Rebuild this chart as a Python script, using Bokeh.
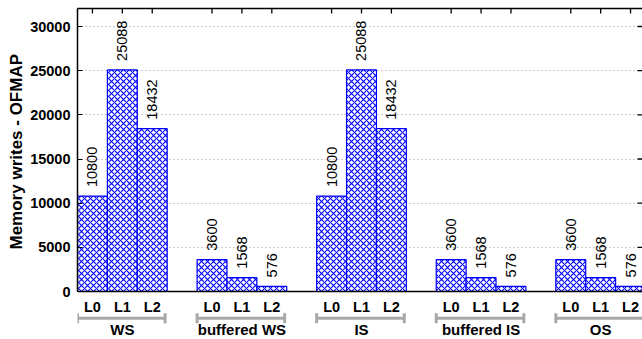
from bokeh.plotting import figure
from bokeh.models import (ColumnDataSource, FixedTicker, LinearAxis, Range1d,
                          Whisker, TeeHead, Grid, Span, Title)
from bokeh.core.properties import value
from bokeh.embed import file_html
from bokeh.resources import INLINE

# ---------------- data ----------------
groups = ["WS", "buffered WS", "IS", "buffered IS", "OS"]
levels = ["L0", "L1", "L2"]
ws_values = [10800, 25088, 18432]
buffered_ws_values = [3600, 1568, 576]
is_values = [10800, 25088, 18432]
buffered_is_values = [3600, 1568, 576]
os_values = [3600, 1568, 576]
y_ticks = [0, 5000, 10000, 15000, 20000, 25000, 30000]
y_label = "Memory writes - OFMAP"

series = [ws_values, buffered_ws_values, is_values, buffered_is_values, os_values]

# ---------------- layout constants (pixels) ----------------
FRAME_H = 331          # frame height (8 px top border, frame to bottom of page)
ZERO_PX = 283          # distance from frame top to the value axis zero line
LEVEL_PX = ZERO_PX + 15.7
BRACKET_PX = ZERO_PX + 26.7
GROUP_PX = ZERO_PX + 38.3
YLABEL_OFFSET = 90     # from frame bottom to start of the rotated axis title

X_START, X_END = -0.5, 18.40
Y_END = 32040
Y_START = -Y_END * (FRAME_H - ZERO_PX) / ZERO_PX

# ---------------- build sources ----------------
step = len(levels) + 1
xs, tops, labels, lvl = [], [], [], []
for g, vals in enumerate(series):
    for k, v in enumerate(vals):
        xs.append(g * step + k)
        tops.append(v)
        labels.append(str(v))
        lvl.append(levels[k])
bar_src = ColumnDataSource(dict(x=xs, top=tops, label=labels, level=lvl))

grp_centers = [g * step + (len(levels) - 1) / 2 for g in range(len(groups))]
br_lower = [g * step - 0.5 for g in range(len(groups))]
br_upper = [g * step + len(levels) - 0.5 - 0.07 for g in range(len(groups))]
grp_src = ColumnDataSource(dict(x=grp_centers, name=groups, lower=br_lower, upper=br_upper))

FONT = "Liberation Sans"
BLUE = "#0000ff"
GRAY = "#a8a8a8"

p = figure(width=642, height=339,
           x_range=Range1d(X_START, X_END), y_range=Range1d(Y_START, Y_END),
           x_axis_type=None, y_axis_type=None,
           output_backend="svg", toolbar_location=None,
           min_border_left=77, min_border_right=0,
           min_border_top=8, min_border_bottom=0,
           outline_line_color=None, background_fill_color="white",
           border_fill_color="white")
p.extra_y_ranges = {"px": Range1d(FRAME_H, 0)}

# grid
p.add_layout(Grid(dimension=1, ticker=FixedTicker(ticks=y_ticks[1:]),
                  grid_line_color="#9a9a9a", grid_line_dash="1 3", grid_line_width=1))

# bars
p.vbar(x="x", top="top", bottom=0, width=1.0, source=bar_src,
       fill_color="white", line_color=BLUE, line_width=1.2,
       hatch_pattern="diagonal_cross", hatch_color=BLUE,
       hatch_scale=6, hatch_weight=1.1)

# value labels
p.text(x="x", y="top", text="label", source=bar_src, angle=1.5708,
       text_align="left", text_baseline="middle", y_offset=-9,
       text_font=value(FONT), text_font_size="14.5px", text_color="black")

# zero line (bottom border of the plot)
p.add_layout(Span(location=0, dimension="width", line_color="black", line_width=1.5))

# mirrored inward ticks on top and right edges (half of each dash is clipped by the frame)
p.scatter(x=xs, y=[Y_END] * len(xs), marker="dash", angle=1.5708, size=10,
          line_color="black", line_width=1.3)
p.scatter(x=[X_END] * len(y_ticks), y=y_ticks, marker="dash", size=10,
          line_color="black", line_width=1.3)

# value axis
left = LinearAxis(ticker=FixedTicker(ticks=y_ticks), bounds=(0, Y_END))
left.major_label_text_font = FONT
left.major_label_text_font_style = "bold"
left.major_label_text_font_size = "14.5px"
left.major_label_text_color = "black"
left.major_tick_in = 5
left.major_tick_out = 0
left.minor_tick_line_color = None
left.major_label_standoff = 7
left.axis_line_width = 1.5
p.add_layout(left, "left")

# axis title, positioned along the value-axis part of the frame
p.add_layout(Title(text=y_label, align="left", offset=YLABEL_OFFSET, standoff=4,
                   text_font=FONT, text_font_style="bold", text_font_size="17px",
                   text_color="black"), "left")

above = LinearAxis(ticker=FixedTicker(ticks=[]))
above.major_tick_line_color = None
above.minor_tick_line_color = None
above.axis_line_width = 1.5
p.add_layout(above, "above")

# category labels, group brackets and group names below the zero line
p.text(x="x", y=LEVEL_PX, text="level", source=bar_src, y_range_name="px",
       text_align="center", text_baseline="middle",
       text_font=value(FONT), text_font_style="bold",
       text_font_size="14.5px", text_color="black")
p.add_layout(Whisker(source=grp_src, lower="lower", upper="upper",
                     base=BRACKET_PX, dimension="width", y_range_name="px",
                     line_color=GRAY, line_width=3,
                     lower_head=TeeHead(size=10, line_color=GRAY, line_width=3),
                     upper_head=TeeHead(size=10, line_color=GRAY, line_width=3)))
p.text(x="x", y=GROUP_PX, text="name", source=grp_src, y_range_name="px",
       text_align="center", text_baseline="middle",
       text_font=value(FONT), text_font_style="bold",
       text_font_size="15px", text_color="black")

open("out.html", "w").write(file_html(p, INLINE))
